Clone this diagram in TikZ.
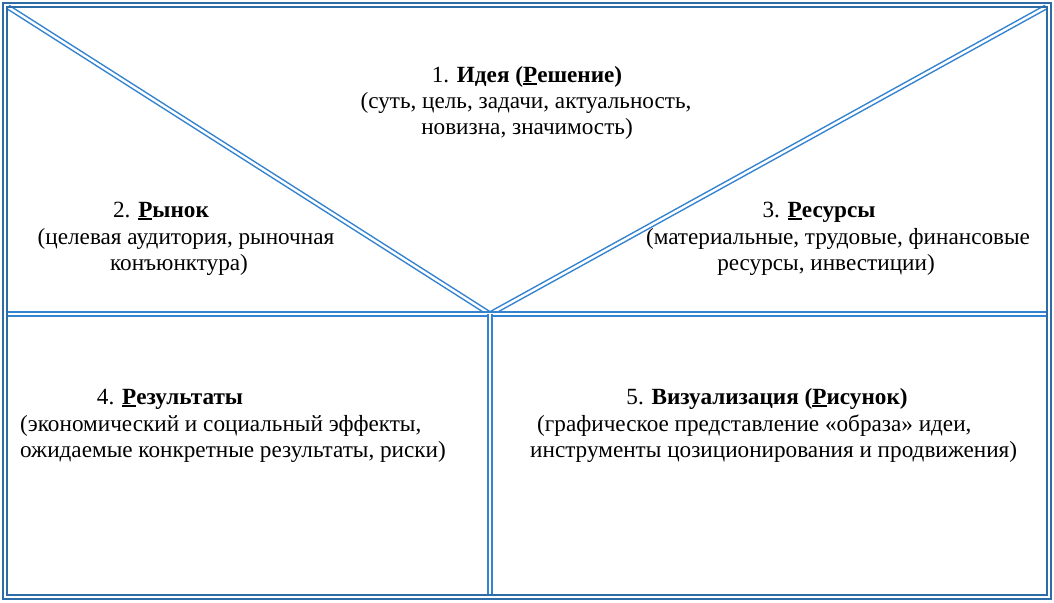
\documentclass[tikz,border=0pt]{standalone}
\usepackage{fontspec}
\setmainfont{Liberation Serif}
\definecolor{framec}{HTML}{2E6CA8}
\definecolor{linec}{HTML}{3383D0}
\newcommand\myul[1]{\setbox0\hbox{#1}\rlap{\rule[-3.2pt]{\wd0}{2pt}}\box0}
\begin{document}
\begin{tikzpicture}[x=1pt,y=-1pt,
  frameline/.style={draw=framec,line width=2pt},
  dline/.style={line width=1.5pt,draw=linec,double=white,double distance=2.4pt},
  txt/.style={inner sep=0pt,anchor=base,font=\fontsize{23.2}{26}\selectfont},
  txtl/.style={txt,anchor=base west}]
\useasboundingbox (0,0) rectangle (1054,602);
\fill[white] (0,0) rectangle (1054,602);
% inner structure
\coordinate (tl) at (8,7);
\coordinate (tr) at (1046,7);
\coordinate (c) at (490,314);
\coordinate (ml) at (7,314);
\coordinate (mr) at (1047,314);
\coordinate (bm) at (490,595);
\draw[dline] (tl) -- (c) -- (tr);
\draw[dline] (ml) -- (mr);
\draw[dline] (c) -- (bm);
% frames
\draw[frameline] (2.5,3.5) rectangle (1050.5,599);
\draw[frameline] (7,7) rectangle (1046.5,595);
% texts
\node[txt] (t1a) at (527,82) {1. \textbf{Идея (\myul{Р}ешение)}};
\node[txt] (t1b) at (526,108) {(суть, цель, задачи, актуальность,};
\node[txt] (t1c) at (527,134) {новизна, значимость)};
\node[txt] (t2a) at (161,217) {2. \textbf{\myul{Р}ынок}};
\node[txt] (t2b) at (186,244) {(целевая аудитория, рыночная};
\node[txt] (t2c) at (179,270) {конъюнктура)};
\node[txt] (t3a) at (819,217) {3. \textbf{\myul{Р}есурсы}};
\node[txt] (t3b) at (838,244) {(материальные, трудовые, финансовые};
\node[txt] (t3c) at (826,270) {ресурсы, инвестиции)};
\node[txt] (t4a) at (170,404) {4. \textbf{\myul{Р}езультаты}};
\node[txtl] (t4b) at (20,431) {(экономический и социальный эффекты,};
\node[txtl] (t4c) at (20,457) {ожидаемые конкретные результаты, риски)};
\node[txt] (t5a) at (767,404) {5. \textbf{Визуализация (\myul{Р}исунок)}};
\node[txtl] (t5b) at (537,431) {(графическое представление «образа» идеи,};
\node[txtl] (t5c) at (530,457) {инструменты цозиционирования и продвижения)};
\end{tikzpicture}
\end{document}
